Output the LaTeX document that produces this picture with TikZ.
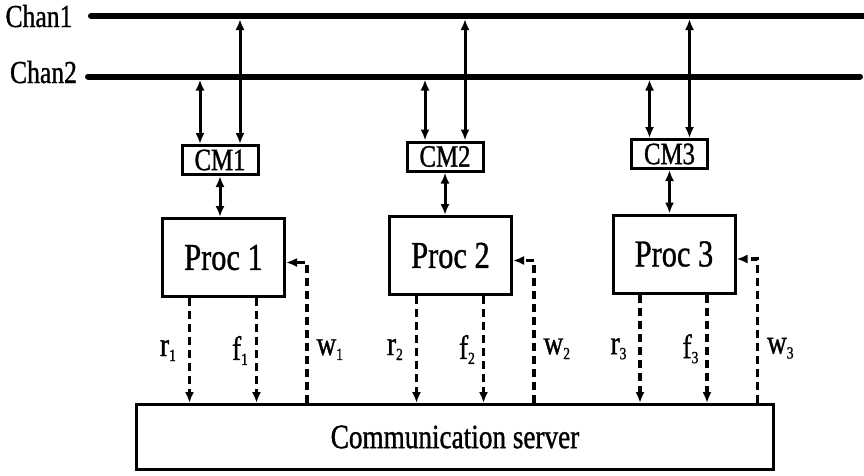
\documentclass[tikz,border=0pt]{standalone}
\usepackage{fontspec}
\setmainfont[FakeStretch=0.8, FakeBold=1]{Liberation Serif}
\usetikzlibrary{arrows.meta, calc}
\newcommand{\lsub}[2]{#1\raisebox{-5pt}{\fontsize{17}{17}\selectfont #2}}

\begin{document}
\begin{tikzpicture}[x=1pt, y=-1pt,
    bus/.style={line width=6pt, line cap=round},
    cmbox/.style={draw, line width=3pt, minimum width=76pt, minimum height=29pt, inner sep=0pt, font=\fontsize{31}{31}\selectfont},
    procbox/.style={draw, line width=3pt, minimum width=122pt, minimum height=78pt, inner sep=0pt, font=\fontsize{38}{38}\selectfont},
    servbox/.style={draw, line width=3pt, minimum width=637pt, minimum height=65pt, inner sep=0pt, font=\fontsize{34}{34}\selectfont},
    biarrow/.style={line width=3pt, {Latex[length=11pt,width=9pt]}-{Latex[length=11pt,width=9pt]}},
    sigline/.style={line width=3.2pt, dash pattern=on 8pt off 5pt, -{Latex[length=11pt,width=9pt]}},
    chanlbl/.style={font=\fontsize{32}{32}\selectfont, inner sep=0pt, anchor=base},
    lbl/.style={font=\fontsize{34}{34}\selectfont, inner sep=0pt}]
    \useasboundingbox (0,0) rectangle (864,475);
    \coordinate (c1a) at (91,16); \coordinate (c1b) at (867,16);
    \coordinate (c2a) at (88,76.5); \coordinate (c2b) at (860,76.5);
    \draw[bus] (c1a) -- (c1b);
    \draw[bus] (c2a) -- (c2b);
    \node[chanlbl] (chan1) at (39,27) {Chan1};
    \node[chanlbl] (chan2) at (43.5,83) {Chan2};
    \node[cmbox] (cm1) at (220,160) {CM1};
    \node[cmbox] (cm2) at (445,156.5) {CM2};
    \node[cmbox] (cm3) at (669.5,154) {CM3};
    \node[procbox] (proc1) at (223.5,257.5) {Proc 1};
    \node[procbox] (proc2) at (450.5,255.5) {Proc 2};
    \node[procbox] (proc3) at (674,254) {Proc 3};
    \node[servbox] (comm) at (455,437) {Communication server\hspace{38pt}};
    \foreach \i in {1,2,3} {
        \draw[biarrow, shorten >=3pt] ($(cm\i.north)+(-20,0)$) coordinate (a\i) -- (a\i |- c2a);
        \draw[biarrow, shorten >=3pt] ($(cm\i.north)+(20,0)$) coordinate (b\i) -- (b\i |- c1a);
        \draw[biarrow] (cm\i.south) -- (cm\i.south |- proc\i.north);
        \draw[sigline] ($(proc\i.south)+(-34,0)$) coordinate (r\i) -- (r\i |- comm.north)
            node[lbl, midway, left=12pt] {\lsub{r}{\i}};
        \draw[sigline] ($(proc\i.south)+(33,0)$) coordinate (f\i) -- (f\i |- comm.north)
            node[lbl, midway, left=7pt] {\lsub{f}{\i}};
        \coordinate (w\i) at ($(proc\i.east)+(21,5)$);
        \draw[sigline] (w\i |- comm.north) -- (w\i) node[lbl, pos=0.38, right=8pt] {\lsub{w}{\i}}
            -- ($(proc\i.east)+(0,5)$);
    }
\end{tikzpicture}
\end{document}
